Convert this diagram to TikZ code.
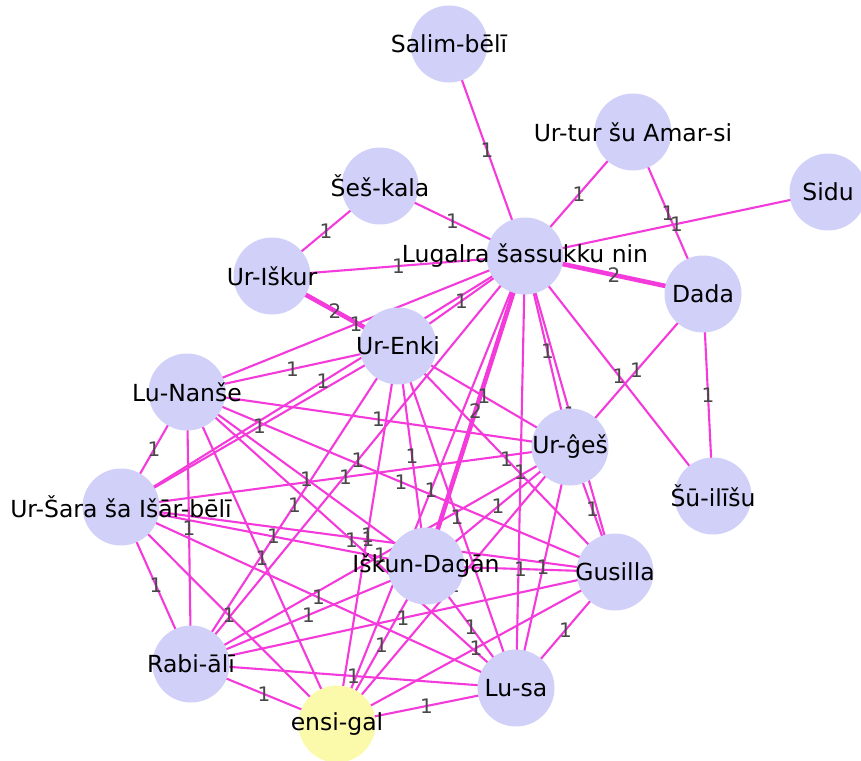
\documentclass[tikz,border=0pt]{standalone}
\usepackage{fontspec}
\setmainfont{DejaVu Sans}
\usetikzlibrary{calc}
\pgfdeclarelayer{edges}
\pgfdeclarelayer{weights}
\pgfsetlayers{edges,weights,main}
\definecolor{linkc}{RGB}{244,58,218}
\definecolor{nodec}{RGB}{208,208,248}
\definecolor{hubc}{RGB}{250,250,170}
\definecolor{wtc}{RGB}{72,72,72}
\begin{document}
\begin{tikzpicture}[x=1pt,y=-1pt,
  person/.style={circle,fill=nodec,minimum size=77pt,inner sep=0pt},
  chief/.style={person,fill=hubc},
  nm/.style={font=\fontsize{23.5}{27}\selectfont,inner sep=0pt,text=black},
  link/.style={draw=linkc,line width=2.1pt},
  heavy/.style={draw=linkc,line width=4.6pt},
  wt/.style={text=wtc,font=\fontsize{20}{20}\selectfont,inner sep=0pt}]
\useasboundingbox (0,0) rectangle (861,760);
\clip (0,0) rectangle (861,760);

% people
\node[person,label={[nm]center:Salim-bēlī}] (sal) at (449,44) {};
\node[person,label={[nm]center:Ur-tur šu Amar-si}] (utur) at (633,132) {};
\node[person,label={[nm]center:Sidu}] (sidu) at (828,192) {};
\node[person,label={[nm]center:Šeš-kala}] (ses) at (380,186) {};
\node[person,label={[nm]center:Lugalra šassukku nin}] (lug) at (525,256) {};
\node[person,label={[nm]center:Ur-Iškur}] (uisk) at (272,276) {};
\node[person,label={[nm]center:Dada}] (dada) at (703,294) {};
\node[person,label={[nm]center:Ur-Enki}] (uenki) at (398,346) {};
\node[person,label={[nm]center:Lu-Nanše}] (lnan) at (187,392) {};
\node[person,label={[nm]center:Ur-ĝeš}] (uges) at (570,447) {};
\node[person,label={[nm]center:Šū-ilīšu}] (suil) at (713,496) {};
\node[person,label={[nm]center:Ur-Šara ša Išār-bēlī}] (usara) at (121,507) {};
\node[person,label={[nm]center:Iškun-Dagān}] (iskun) at (426,566) {};
\node[person,label={[nm]center:Gusilla}] (gus) at (615,572) {};
\node[person,label={[nm]center:Rabi-ālī}] (rabi) at (191,664) {};
\node[person,label={[nm]center:Lu-sa}] (lusa) at (516,688) {};
\node[chief,label={[nm]center:ensi-gal}] (ensi) at (337,724) {};

% weighted ties, label at the middle of each tie
\foreach \a/\b/\w/\s in {
  sal/lug/1/link, ses/lug/1/link, ses/uisk/1/link, utur/lug/1/link,
  utur/dada/1/link, sidu/lug/1/link, uisk/lug/1/link, dada/uges/1/link,
  lug/suil/1/link, dada/suil/1/link,
  lug/dada/2/heavy, uisk/uenki/2/heavy, lug/iskun/2/heavy,
  lug/uenki/1/link, lug/lnan/1/link, lug/usara/1/link, lug/uges/1/link,
  lug/gus/1/link, lug/rabi/1/link, lug/lusa/1/link, lug/ensi/1/link,
  uenki/lnan/1/link, uenki/usara/1/link, uenki/uges/1/link, uenki/iskun/1/link,
  uenki/gus/1/link, uenki/rabi/1/link, uenki/lusa/1/link, uenki/ensi/1/link,
  lnan/usara/1/link, lnan/uges/1/link, lnan/iskun/1/link, lnan/gus/1/link,
  lnan/rabi/1/link, lnan/lusa/1/link, lnan/ensi/1/link,
  usara/uges/1/link, usara/iskun/1/link, usara/gus/1/link, usara/rabi/1/link,
  usara/lusa/1/link, usara/ensi/1/link,
  uges/iskun/1/link, uges/gus/1/link, uges/rabi/1/link, uges/lusa/1/link,
  uges/ensi/1/link,
  iskun/gus/1/link, iskun/rabi/1/link, iskun/lusa/1/link, iskun/ensi/1/link,
  gus/rabi/1/link, gus/lusa/1/link, gus/ensi/1/link,
  rabi/lusa/1/link, rabi/ensi/1/link,
  lusa/ensi/1/link} {
  \begin{pgfonlayer}{edges}
    \draw[\s] (\a.center) -- (\b.center);
  \end{pgfonlayer}
  \begin{pgfonlayer}{weights}
    \node[wt] (w-\a-\b) at ($(\a.center)!0.5!(\b.center)$) {\w};
  \end{pgfonlayer}
}
\end{tikzpicture}
\end{document}
